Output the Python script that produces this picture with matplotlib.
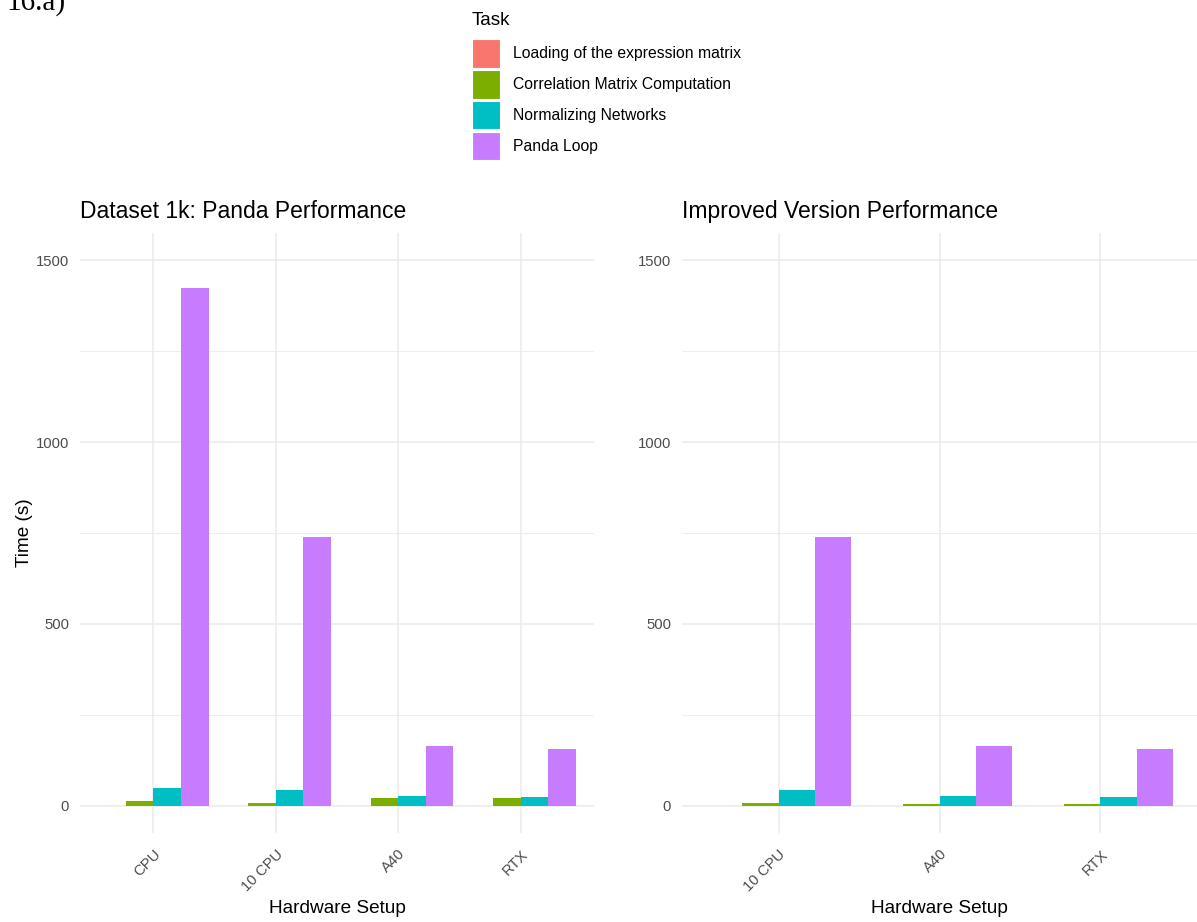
import matplotlib.pyplot as plt
from matplotlib.patches import Rectangle
from matplotlib.transforms import ScaledTranslation
import numpy as np

plt.rcParams['font.family'] = ['Liberation Sans', 'DejaVu Sans']

# Timings in seconds per task and hardware setup
tasks = ["Loading of the expression matrix", "Correlation Matrix Computation",
         "Normalizing Networks", "Panda Loop"]
task_colors = ["#F8766D", "#7CAE00", "#00BFC4", "#C77CFF"]

panda_hw = ["CPU", "10 CPU", "A40", "RTX"]
panda_loading = [0, 0, 0, 0]
panda_corr = [13, 7, 20, 20]
panda_norm = [48, 44, 27.5, 24]
panda_loop = [1423, 740, 163, 157]

improved_hw = ["10 CPU", "A40", "RTX"]
improved_loading = [0, 0, 0]
improved_corr = [7, 4, 4]
improved_norm = [44, 27.5, 24]
improved_loop = [740, 163, 157]

W, H = 1197, 922
fig = plt.figure(figsize=(W / 100, H / 100), dpi=100)

grid_col = "#EBEBEB"
tick_col = "#4D4D4D"


def panel(rect, hw, series, title, ylabel=None):
    ax = fig.add_axes(rect)
    n = len(hw)
    x = np.arange(n)
    width = 0.9 / len(series)
    for k, (vals, col) in enumerate(zip(series, task_colors)):
        off = (k - (len(series) - 1) / 2) * width
        ax.bar(x + off, vals, width=width, color=col, linewidth=0, zorder=3)
    ax.set_xlim(-0.6, n - 0.4)
    ax.set_ylim(-75, 1575)
    ax.set_yticks([0, 500, 1000, 1500])
    ax.set_yticks([250, 750, 1250], minor=True)
    ax.set_xticks(x)
    ax.set_xticklabels(hw, rotation=45, ha="right", va="top",
                       rotation_mode="anchor")
    # nudge the rotated labels a little to the right and down
    shift = ScaledTranslation(3 / 100, -1 / 100, fig.dpi_scale_trans)
    for lab in ax.get_xticklabels():
        lab.set_transform(lab.get_transform() + shift)
    ax.grid(True, which="major", color=grid_col, linewidth=1.1, zorder=0)
    ax.grid(True, which="minor", axis="y", color=grid_col, linewidth=0.6, zorder=0)
    ax.tick_params(which="both", length=0)
    ax.tick_params(axis="y", pad=7.9, labelsize=10.7, labelcolor=tick_col)
    ax.tick_params(axis="x", pad=10, labelsize=10.7, labelcolor=tick_col)
    for s in ax.spines.values():
        s.set_visible(False)
    ax.set_title(title, loc="left", fontsize=16.5, pad=10.8)
    ax.set_xlabel("Hardware Setup", fontsize=13.7)
    ax.xaxis.set_label_coords(0.5, -0.125)
    ax.xaxis.label.set_va("center")
    if ylabel:
        ax.set_ylabel(ylabel, fontsize=13.7)
        ax.yaxis.set_label_coords(-0.108, 0.5)
        ax.yaxis.label.set_va("center")
    return ax


bottom = (H - 833) / H
height = 600 / H
panel([80 / W, bottom, 514 / W, height], panda_hw,
      [panda_loading, panda_corr, panda_norm, panda_loop],
      "Dataset 1k: Panda Performance", ylabel="Time (s)")
panel([682 / W, bottom, 515 / W, height], improved_hw,
      [improved_loading, improved_corr, improved_norm, improved_loop],
      "Improved Version Performance")

# shared legend and figure tag, laid out in pixel coordinates
over = fig.add_axes([0, 0, 1, 1])
over.set_xlim(0, W)
over.set_ylim(H, 0)
over.axis("off")
over.patch.set_visible(False)

over.text(471.7, 20.5, "Task", fontsize=13.6, va="center", ha="left")
key_tops = [39.3, 70.3, 101, 132]
for top, name, col in zip(key_tops, tasks, task_colors):
    over.add_patch(Rectangle((472.3, top), 28, 28.5, facecolor=col,
                             edgecolor="white", linewidth=0.8))
    over.text(512.7, top + 14.2, name, fontsize=11.3, va="center", ha="left")

over.text(6, 10, "16.a)", fontsize=21, family=["Liberation Serif", "DejaVu Serif"],
          va="baseline", ha="left")

fig.savefig("out.png", dpi=100)
